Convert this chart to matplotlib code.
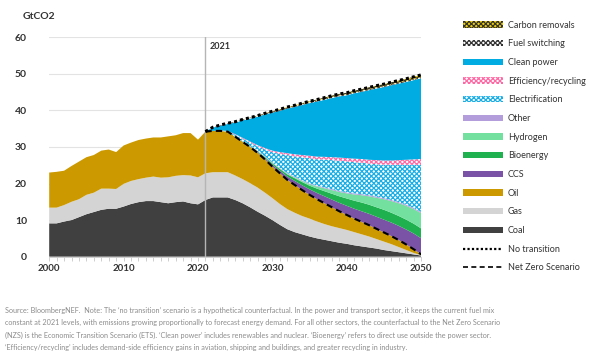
import numpy as np
import matplotlib
matplotlib.use("Agg")
from matplotlib import pyplot as plt
from matplotlib.patches import Patch
from matplotlib.lines import Line2D

plt.rcParams['font.family'] = ['Lato', 'DejaVu Sans']
plt.rcParams['hatch.linewidth'] = 0.9

years = np.arange(2000, 2051)
future = np.arange(2021, 2051)

# fossil emissions, GtCO2 (history 2000-2020, Net Zero Scenario 2021-2050)
coal = [9.1, 9.1, 9.6, 10.0, 10.8, 11.6, 12.2, 12.8, 13.1, 13.1, 13.7, 14.4, 14.9, 15.2, 15.2,
        14.9, 14.6, 14.9, 15.1, 14.6, 14.3, 15.5, 16.2, 16.2, 16.2, 15.5, 14.6, 13.5, 12.3, 11.2,
        10.0, 8.7, 7.5, 6.7, 6.1, 5.5, 5.0, 4.6, 4.2, 3.8, 3.5, 3.1, 2.8, 2.5, 2.2, 1.8, 1.5,
        1.2, 0.9, 0.6, 0.3]
gas = [4.3, 4.3, 4.5, 5.0, 4.9, 5.3, 5.3, 5.8, 5.5, 5.4, 6.2, 6.3, 6.3, 6.4, 6.7, 6.7, 7.1,
       7.2, 7.2, 7.6, 7.4, 7.3, 6.9, 6.9, 6.9, 6.7, 6.6, 6.6, 6.6, 6.3, 6.0, 5.7, 5.5, 5.3, 5.0,
       4.9, 4.6, 4.3, 4.1, 4.0, 3.8, 3.6, 3.3, 3.0, 2.6, 2.3, 1.9, 1.4, 0.9, 0.4, 0.1]
oil = [9.6, 9.8, 9.4, 9.8, 10.3, 10.3, 10.3, 10.4, 10.7, 10.1, 10.5, 10.5, 10.7, 10.7, 10.7,
       11.0, 11.2, 11.1, 11.5, 11.6, 10.3, 11.4, 11.3, 11.3, 11.1, 10.6, 10.2, 9.9, 9.5, 9.1,
       8.6, 8.4, 8.0, 7.6, 7.1, 6.5, 6.1, 5.7, 5.2, 4.6, 4.1, 3.7, 3.4, 3.1, 2.8, 2.5, 2.2, 1.9,
       1.5, 1.0, 0.2]

# abatement versus 'no transition', 2021-2050
ccs = [0, 0, 0, 0, 0, 0.05, 0.1, 0.2, 0.35, 0.5, 0.7, 0.9, 1.1, 1.3, 1.5, 1.7, 1.9, 2.1, 2.3,
       2.5, 2.7, 2.9, 3.1, 3.3, 3.5, 3.7, 3.9, 4.1, 4.3, 4.4]
bioenergy = [0, 0, 0, 0, 0.02, 0.05, 0.1, 0.2, 0.3, 0.4, 0.5, 0.6, 0.75, 0.9, 1.0, 1.2, 1.4,
             1.6, 1.8, 2.0, 2.2, 2.4, 2.5, 2.6, 2.7, 2.7, 2.7, 2.7, 2.7, 2.7]
hydrogen = [0, 0, 0, 0, 0, 0, 0.02, 0.05, 0.08, 0.1, 0.1, 0.15, 0.2, 0.3, 0.4, 0.6, 0.8, 1.0,
            1.2, 1.4, 1.7, 2.0, 2.3, 2.6, 2.9, 3.2, 3.5, 3.8, 4.0, 4.2]
other = [0, 0, 0, 0, 0.02, 0.05, 0.08, 0.1, 0.12, 0.15, 0.15, 0.2, 0.2, 0.2, 0.2, 0.2, 0.25,
         0.25, 0.25, 0.25, 0.3, 0.3, 0.3, 0.3, 0.3, 0.3, 0.3, 0.3, 0.3, 0.3]
electrification = [0, 0, 0.05, 0.1, 0.5, 0.75, 0.95, 1.25, 1.9, 2.85, 3.9, 4.95, 5.6, 6.3,
                   6.95, 7.25, 7.6, 7.95, 8.3, 8.5, 8.55, 8.6, 8.65, 8.9, 9.15, 9.6, 10.2,
                   10.9, 11.8, 12.9]
efficiency = [0, 0, 0.05, 0.1, 0.15, 0.2, 0.25, 0.3, 0.35, 0.4, 0.45, 0.5, 0.55, 0.6, 0.65,
              0.7, 0.75, 0.8, 0.85, 0.9, 0.95, 1.0, 1.05, 1.1, 1.15, 1.2, 1.3, 1.4, 1.5, 1.6]
clean_power = [0, 0.9, 1.35, 1.9, 3.2, 4.8, 6.25, 7.8, 9.2, 10.4, 11.3, 12.2, 12.95, 13.7,
               14.4, 15.1, 15.6, 16.2, 16.75, 17.2, 17.9, 18.4, 19.05, 19.6, 20.1, 20.6, 20.95,
               21.3, 21.7, 22.1]
fuel_switching = [0, 0.1, 0.15, 0.2, 0.2, 0.2, 0.2, 0.2, 0.2, 0.25, 0.25, 0.25, 0.25, 0.25,
                  0.25, 0.25, 0.3, 0.3, 0.3, 0.3, 0.3, 0.3, 0.3, 0.3, 0.3, 0.3, 0.3, 0.3, 0.3, 0.3]
carbon_removals = [0, 0, 0, 0, 0.02, 0.03, 0.05, 0.07, 0.1, 0.12, 0.15, 0.17, 0.2, 0.22, 0.25,
                   0.27, 0.3, 0.32, 0.35, 0.38, 0.4, 0.42, 0.45, 0.47, 0.5, 0.52, 0.55, 0.57,
                   0.6, 0.62]

fossil = [("Coal", coal, "#404040", None, None),
          ("Gas", gas, "#d4d4d4", None, None),
          ("Oil", oil, "#cc9a00", None, None)]
wedges = [("CCS", ccs, "#7a52a6", None, None),
          ("Bioenergy", bioenergy, "#1fb14f", None, None),
          ("Hydrogen", hydrogen, "#74e0a0", None, None),
          ("Other", other, "#b39ddb", None, None),
          ("Electrification", electrification, "white", "xxxxxxx", "#1aaee6"),
          ("Efficiency/recycling", efficiency, "white", "xxxxxxx", "#ff6aa5"),
          ("Clean power", clean_power, "#00ace2", None, None),
          ("Fuel switching", fuel_switching, "white", "xxxxxxx", "#333333"),
          ("Carbon removals", carbon_removals, "#f0d000", "xxxxxxx", "#333333")]

fig = plt.figure(figsize=(6, 3.64), dpi=100)
ax = fig.add_axes([0.082, 0.295, 0.62, 0.6025])

handles = {}
base = np.zeros(len(years))
for name, vals, col, hatch, hcol in fossil:
    top = base + np.array(vals)
    ax.fill_between(years, base, top, facecolor=col, linewidth=0, zorder=2)
    handles[name] = Patch(facecolor=col, linewidth=0)
    base = top

net_zero = base[years >= 2021]
fbase = net_zero.copy()
for name, vals, col, hatch, hcol in wedges:
    top = fbase + np.array(vals)
    if hatch:
        ax.fill_between(future, fbase, top, facecolor=col, edgecolor=hcol, hatch=hatch,
                        linewidth=0, zorder=2)
        handles[name] = Patch(facecolor=col, edgecolor=hcol, hatch=hatch, linewidth=0)
    else:
        ax.fill_between(future, fbase, top, facecolor=col, linewidth=0, zorder=2)
        handles[name] = Patch(facecolor=col, linewidth=0)
    fbase = top
no_transition = fbase

ax.plot(future, no_transition, color="black", linestyle=(0, (1, 1)), linewidth=2.2, zorder=4)
ax.plot(future, net_zero, color="black", linestyle=(0, (3, 2)), linewidth=1.5, zorder=4)
handles["No transition"] = Line2D([], [], color="black", linestyle=(0, (1, 1)), linewidth=1.6)
handles["Net Zero Scenario"] = Line2D([], [], color="black", linestyle=(0, (3, 2)), linewidth=1.2)

ax.axvline(2021, color="#b5b5b5", linewidth=1.0, zorder=3)
ax.text(2021.6, 57.4, "2021", fontsize=6.5, color="#333333", va="center", fontweight="bold")

ax.set_xlim(2000, 2050)
ax.set_ylim(0, 60)
ax.set_yticks(range(0, 61, 10))
ax.set_xticks(range(2000, 2051, 10))
ax.set_xticks(range(2000, 2051), minor=True)
for y in range(10, 61, 10):
    ax.axhline(y, color="#e3e3e3", linewidth=0.8, zorder=1)
for s in ["top", "right", "left"]:
    ax.spines[s].set_visible(False)
ax.spines["bottom"].set_color("#c8c8c8")
ax.spines["bottom"].set_linewidth(0.6)
ax.tick_params(axis="y", length=0, pad=16, labelsize=7.5, labelcolor="#333333")
ax.tick_params(axis="x", which="both", length=3, color="#c8c8c8", width=0.6,
               labelsize=7, labelcolor="#333333", pad=2)
for lab in ax.get_xticklabels() + ax.get_yticklabels():
    lab.set_fontweight("bold")
ax.set_axisbelow(True)

fig.text(0.038, 0.955, "GtCO2", fontsize=7.5, fontweight="bold", color="#333333", va="center")

order = ["Carbon removals", "Fuel switching", "Clean power", "Efficiency/recycling",
         "Electrification", "Other", "Hydrogen", "Bioenergy", "CCS", "Oil", "Gas", "Coal",
         "No transition", "Net Zero Scenario"]
fig.legend([handles[k] for k in order], order, loc="upper left",
           bbox_to_anchor=(0.772, 0.943), frameon=False, fontsize=6.5,
           handlelength=4.4, handleheight=0.7, handletextpad=0.55, labelspacing=1.07,
           labelcolor="#333333", borderpad=0, borderaxespad=0)

note = ("Source: BloombergNEF.  Note: The \u2018no transition\u2019 scenario is a hypothetical counterfactual. "
        "In the power and transport sector, it keeps the current fuel mix\n"
        "constant at 2021 levels, with emissions growing proportionally to forecast energy demand. "
        "For all other sectors, the counterfactual to the Net Zero Scenario\n"
        "(NZS) is the Economic Transition Scenario (ETS). \u2018Clean power\u2019 includes renewables "
        "and nuclear. \u2018Bioenergy\u2019 refers to direct use outside the power sector.\n"
        "\u2018Efficiency/recycling\u2019 includes demand-side efficiency gains in aviation, shipping "
        "and buildings, and greater recycling in industry.")
fig.text(0.009, 0.096, note, fontsize=5.25, color="#8c8c8c", va="center", linespacing=1.9)

fig.savefig("out.png", dpi=100)
